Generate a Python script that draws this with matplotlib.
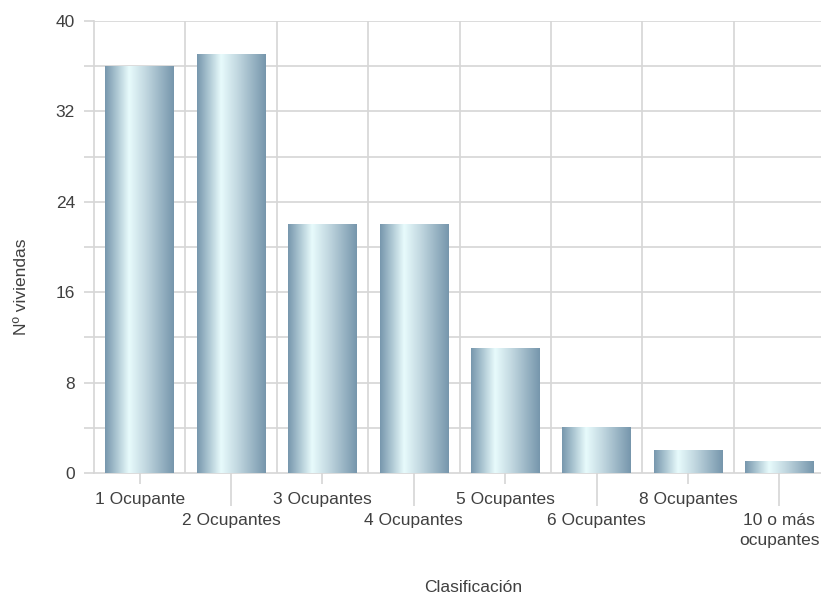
import numpy as np
import matplotlib
matplotlib.use("agg")
import matplotlib.pyplot as plt
from matplotlib.colors import LinearSegmentedColormap

# data
categories = ["1 Ocupante", "2 Ocupantes", "3 Ocupantes", "4 Ocupantes",
              "5 Ocupantes", "6 Ocupantes", "8 Ocupantes", "10 o más\nocupantes"]
viviendas = [36, 37, 22, 22, 11, 4, 2, 1]
y_ticks = [0, 8, 16, 24, 32, 40]

plt.rcParams['font.family'] = ['Liberation Sans', 'DejaVu Sans']
text_color = '#404040'
grid_color = '#d6d6d6'
fsize = 12.5

# metallic gradient for the bars
bar_cmap = LinearSegmentedColormap.from_list(
    "steel", [(0.0, '#7797ad'), (0.15, '#a6c1ce'), (0.35, '#e8fbfc'),
              (0.6, '#c0d6df'), (1.0, '#7696ac')])
gradient = np.linspace(0, 1, 256).reshape(1, -1)

fig = plt.figure(figsize=(8.21, 5.96), dpi=100)
ax = fig.add_axes([94 / 821, 123 / 596, 731 / 821, 452 / 596])

x = np.arange(len(categories))
width = 0.75
for xi, h in zip(x, viviendas):
    ax.imshow(gradient, cmap=bar_cmap, extent=[xi - width / 2, xi + width / 2, 0, h],
              aspect='auto', zorder=3, interpolation='bilinear')

ax.set_xlim(-0.5, len(categories) - 0.5)
ax.set_ylim(0, 40)
ax.set_aspect('auto')

# gridlines
for yv in np.arange(4, 41, 4):
    ax.axhline(yv, color=grid_color, lw=1.2, zorder=1)
for xv in np.arange(0.5, len(categories), 1):
    ax.axvline(xv, color=grid_color, lw=1.2, zorder=1)

for side in ['top', 'right']:
    ax.spines[side].set_visible(False)
for side in ['left', 'bottom']:
    ax.spines[side].set_color(grid_color)
    ax.spines[side].set_linewidth(1.2)

# y axis
ax.set_yticks(y_ticks)
ax.set_yticks(np.arange(4, 40, 8), minor=True)
ax.tick_params(axis='y', which='both', length=7.2, width=1.2, color=grid_color,
               pad=6.5, labelsize=fsize, labelcolor=text_color)

# x axis: staggered labels in two rows
ax.set_xticks(x[::2], [categories[i] for i in x[::2]])
ax.set_xticks(x[1::2], [categories[i] for i in x[1::2]], minor=True)
ax.tick_params(axis='x', which='major', length=7.9, width=1.2, color=grid_color,
               pad=5.5, labelsize=fsize, labelcolor=text_color)
ax.tick_params(axis='x', which='minor', length=23.8, width=1.2, color=grid_color,
               pad=4.8, labelsize=fsize, labelcolor=text_color)
for lab in ax.get_xticklabels(minor=True):
    lab.set_linespacing(1.4)

fig.text(22 / 821, 1 - 287 / 596, "Nº viviendas", rotation=90, ha='center', va='center',
         fontsize=fsize, color=text_color)
fig.text(473 / 821, 1 - 587 / 596, "Clasificación", ha='center', va='center',
         fontsize=fsize, color=text_color)

fig.savefig("out.png", dpi=100)
